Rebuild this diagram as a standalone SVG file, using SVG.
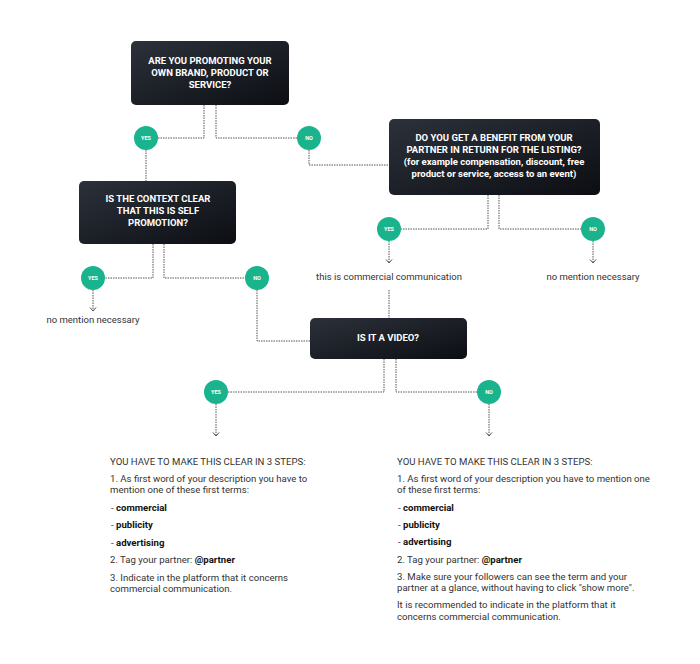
<svg xmlns="http://www.w3.org/2000/svg" width="700" height="664" viewBox="0 0 700 664">
<defs>
<linearGradient id="boxg" x1="0" y1="0" x2="1" y2="1">
<stop offset="0" stop-color="#2c313a"/>
<stop offset="1" stop-color="#0c0e13"/>
</linearGradient>
<marker id="arr" markerUnits="userSpaceOnUse" markerWidth="8" markerHeight="8" refX="4" refY="3.5" orient="auto" viewBox="0 0 8 8">
<path d="M0.5,0.5 L4,3.5 L0.5,6.5" fill="none" stroke="#555" stroke-width="1"/>
</marker>
</defs>
<style>
.box{fill:url(#boxg);}
.bt{font-family:Roboto,"Liberation Sans",sans-serif;font-weight:bold;font-size:9.5px;fill:#fff;text-anchor:middle;}
.dot{fill:#19b48d;}
.dt{font-family:Roboto,"Liberation Sans",sans-serif;font-weight:bold;font-size:5.5px;fill:#fff;text-anchor:middle;}
.con{fill:none;stroke:#555;stroke-width:1;stroke-dasharray:1.5 1;}
.ar{marker-end:url(#arr);}
.lbl{font-family:Roboto,"Liberation Sans",sans-serif;font-size:9.5px;fill:#333;text-anchor:middle;}
.tx{font-family:Roboto,"Liberation Sans",sans-serif;font-size:9.6px;fill:#333;}
.b{font-weight:bold;fill:#111;}
</style>
<rect width="700" height="664" fill="#fff"/>
<g id="connectors">
<path class="con" d="M204,105 V138 H158"/>
<path class="con" d="M216,105 V138 H297"/>
<path class="con" d="M146,150 V181"/>
<path class="con" d="M309,150 V165 H389"/>
<path class="con" d="M153,244 V278 H105"/>
<path class="con" d="M164,244 V278 H245"/>
<path class="con ar" d="M93,290 V311"/>
<path class="con" d="M257,290 V341 H310"/>
<path class="con" d="M488,195 V229 H401"/>
<path class="con" d="M499,195 V229 H581"/>
<path class="con ar" d="M389,241 V263"/>
<path class="con ar" d="M593,241 V263"/>
<path class="con" d="M389,290 V318"/>
<path class="con" d="M384,359 V392 H228"/>
<path class="con" d="M396,359 V392 H477"/>
<path class="con ar" d="M216,404 V436"/>
<path class="con ar" d="M489,404 V436"/>
</g>
<g id="q-promoting">
<rect class="box" x="131" y="41" width="158" height="64" rx="5"/>
<text class="bt" x="210" y="64">ARE YOU PROMOTING YOUR</text>
<text class="bt" x="210" y="76">OWN BRAND, PRODUCT OR</text>
<text class="bt" x="210" y="88">SERVICE?</text>
</g>
<g id="q-benefit">
<rect class="box" x="389" y="119" width="211" height="76" rx="5"/>
<text class="bt" x="494" y="141">DO YOU GET A BENEFIT FROM YOUR</text>
<text class="bt" x="494" y="153">PARTNER IN RETURN FOR THE LISTING?</text>
<text class="bt" x="494" y="165">(for example compensation, discount, free</text>
<text class="bt" x="494" y="177">product or service, access to an event)</text>
</g>
<g id="q-context">
<rect class="box" x="79" y="181" width="157" height="63" rx="5"/>
<text class="bt" x="158" y="202">IS THE CONTEXT CLEAR</text>
<text class="bt" x="158" y="214">THAT THIS IS SELF</text>
<text class="bt" x="158" y="226">PROMOTION?</text>
</g>
<g id="q-video">
<rect class="box" x="310" y="318" width="157" height="41" rx="5"/>
<text class="bt" x="388" y="341">IS IT A VIDEO?</text>
</g>
<g id="yes1"><circle class="dot" cx="146" cy="138" r="12"/><text class="dt" x="146" y="140">YES</text></g>
<g id="no1"><circle class="dot" cx="309" cy="138" r="12"/><text class="dt" x="309" y="140">NO</text></g>
<g id="yes2"><circle class="dot" cx="93" cy="278" r="12"/><text class="dt" x="93" y="280">YES</text></g>
<g id="no2"><circle class="dot" cx="257" cy="278" r="12"/><text class="dt" x="257" y="280">NO</text></g>
<g id="yes3"><circle class="dot" cx="389" cy="229" r="12"/><text class="dt" x="389" y="231">YES</text></g>
<g id="no3"><circle class="dot" cx="593" cy="229" r="12"/><text class="dt" x="593" y="231">NO</text></g>
<g id="yes4"><circle class="dot" cx="216" cy="392" r="12"/><text class="dt" x="216" y="394">YES</text></g>
<g id="no4"><circle class="dot" cx="489" cy="392" r="12"/><text class="dt" x="489" y="394">NO</text></g>
<g id="r-no-mention-left"><text class="lbl" x="93" y="323">no mention necessary</text></g>
<g id="r-commercial"><text class="lbl" x="389" y="280">this is commercial communication</text></g>
<g id="r-no-mention-right"><text class="lbl" x="593" y="280">no mention necessary</text></g>
<g id="steps-yes">
<text class="tx" x="110" y="465">YOU HAVE TO MAKE THIS CLEAR IN 3 STEPS:</text>
<text class="tx" x="110" y="482">1. As first word of your description you have to</text>
<text class="tx" x="110" y="493">mention one of these first terms:</text>
<text class="tx" x="111" y="511">- <tspan class="b">commercial</tspan></text>
<text class="tx" x="111" y="528">- <tspan class="b">publicity</tspan></text>
<text class="tx" x="111" y="546">- <tspan class="b">advertising</tspan></text>
<text class="tx" x="110" y="563">2. Tag your partner: <tspan class="b">@partner</tspan></text>
<text class="tx" x="110" y="581">3. Indicate in the platform that it concerns</text>
<text class="tx" x="110" y="592">commercial communication.</text>
</g>
<g id="steps-no">
<text class="tx" x="397" y="465">YOU HAVE TO MAKE THIS CLEAR IN 3 STEPS:</text>
<text class="tx" x="397" y="482">1. As first word of your description you have to mention one</text>
<text class="tx" x="397" y="493">of these first terms:</text>
<text class="tx" x="398" y="511">- <tspan class="b">commercial</tspan></text>
<text class="tx" x="398" y="528">- <tspan class="b">publicity</tspan></text>
<text class="tx" x="398" y="545">- <tspan class="b">advertising</tspan></text>
<text class="tx" x="397" y="563">2. Tag your partner: <tspan class="b">@partner</tspan></text>
<text class="tx" x="397" y="580">3. Make sure your followers can see the term and your</text>
<text class="tx" x="397" y="591">partner at a glance, without having to click "show more".</text>
<text class="tx" x="397" y="608">It is recommended to indicate in the platform that it</text>
<text class="tx" x="397" y="620">concerns commercial communication.</text>
</g>
</svg>
